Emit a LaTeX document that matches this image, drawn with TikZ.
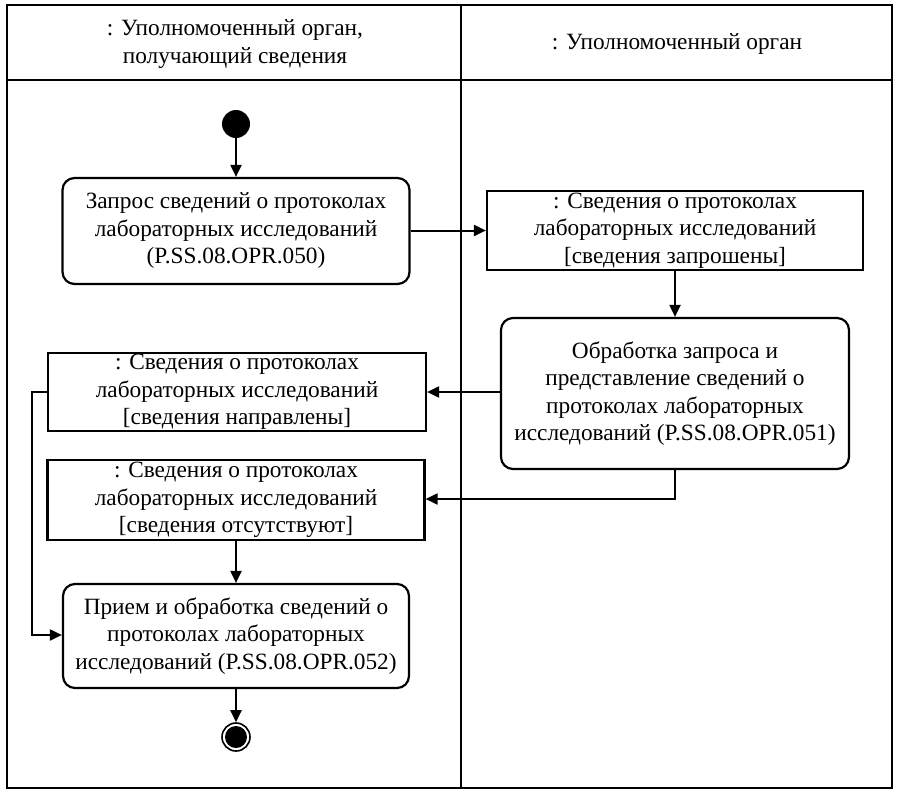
\documentclass[tikz,border=0pt]{standalone}
\usepackage{fontspec}
\setmainfont{Liberation Serif}
\usetikzlibrary{arrows.meta}
\begin{document}
\begin{tikzpicture}[x=1pt,y=-1pt,
  every node/.style={font=\fontsize{23.3}{27.5}\selectfont, align=center, inner sep=0pt},
  act/.style={draw, line width=2.2pt, rounded corners=12pt, minimum width=#1},
  obj/.style={draw, line width=2.2pt, minimum width=#1},
  flow/.style={line width=2pt, -{Triangle[length=12pt,width=11pt]}},
  lane/.style={line width=2.2pt}]
\useasboundingbox (0,0) rectangle (899,795);
\fill[white] (0,0) rectangle (899,795);
% swimlanes
\draw[lane] (7,5) rectangle (892,788);
\draw[lane] (7,80) -- (892,80);
\draw[lane] (461,5) -- (461,788);
\node (h1) at (235,44) {: Уполномоченный орган,\\получающий сведения};
\node (h2) at (677,44) {: Уполномоченный орган};
% nodes
\node[circle, fill=black, minimum size=28pt] (start) at (236,124) {};
\node[act=347pt, minimum height=106pt] (b1) at (236,231) {Запрос сведений о протоколах\\лабораторных исследований\\(P.SS.08.OPR.050)};
\node[obj=376pt, minimum height=79pt] (o1) at (675,230.5) {: Сведения о протоколах\\лабораторных исследований\\{[}сведения запрошены{]}};
\node[act=348pt, minimum height=151pt] (b2) at (675,393.5) {Обработка запроса и\\представление сведений о\\протоколах лабораторных\\исследований (P.SS.08.OPR.051)};
\node[obj=378pt, minimum height=78pt] (o2) at (237,392) {: Сведения о протоколах\\лабораторных исследований\\{[}сведения направлены{]}};
\node[obj=377pt, minimum height=80pt] (o3) at (236,500) {: Сведения о протоколах\\лабораторных исследований\\{[}сведения отсутствуют{]}};
\node[act=346pt, minimum height=104pt] (b3) at (236,636) {Прием и обработка сведений о\\протоколах лабораторных\\исследований (P.SS.08.OPR.052)};
\node[circle, draw, line width=1.6pt, minimum size=28pt] (end) at (236,737) {};
\fill (end.center) circle (11pt);
\coordinate (c1) at (675,499);
\coordinate (c2) at (32,392);
\coordinate (c3) at (32,635);
% edges
\draw[flow] (start) -- (b1);
\draw[flow] (b1.east |- o1.west) -- (o1.west);
\draw[flow] (o1.south) -- (b2.north);
\draw[flow] (b2.west |- o2.east) -- (o2.east);
\draw[flow] (b2.south) -- (c1) -- (o3.east |- c1);
\draw[flow] (o2.west) -- (c2) -- (c3) -- (b3.west |- c3);
\draw[flow] (o3.south) -- (b3.north);
\draw[flow] (b3.south) -- (end.north);
\end{tikzpicture}
\end{document}
